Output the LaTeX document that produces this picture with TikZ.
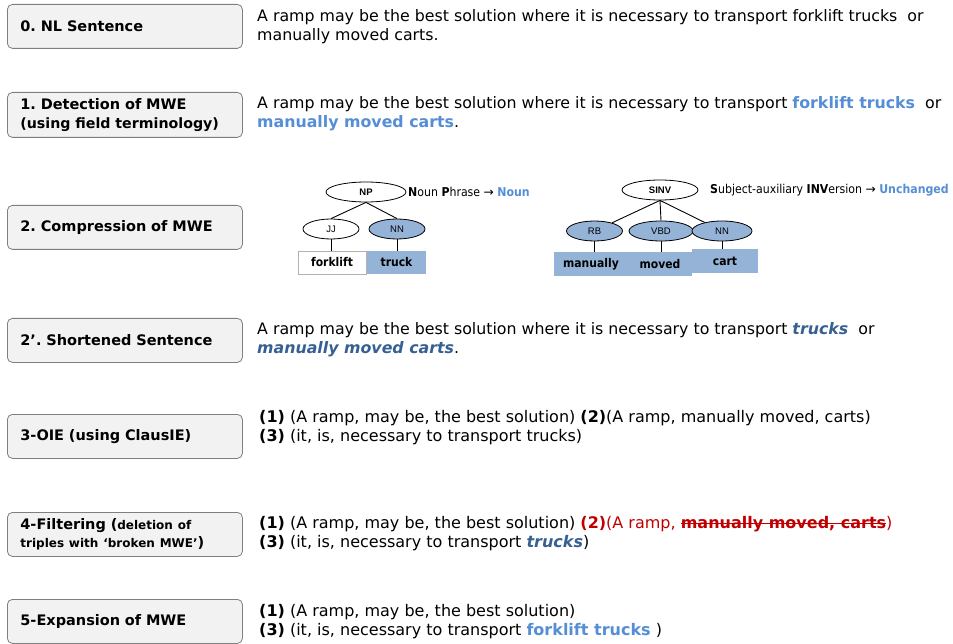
\documentclass[tikz,border=0pt]{standalone}
\usepackage{fontspec}
\setmainfont{DejaVu Sans}
\newfontfamily\bodyfont{DejaVu Sans}
\newfontfamily\notefont{DejaVu Sans Condensed}[BoldFont={DejaVu Sans Condensed Bold}]
\newfontfamily\treefont{Liberation Sans}
\usetikzlibrary{shapes.geometric}
\definecolor{lblue}{HTML}{558ED5}
\definecolor{dblue}{HTML}{376092}
\definecolor{nodeblue}{HTML}{95B3D7}
\definecolor{dred}{HTML}{C00000}
\definecolor{boxgray}{HTML}{F2F2F2}
\definecolor{boxline}{HTML}{7F7F7F}
\tikzset{
  stepbox/.style={draw=boxline,fill=boxgray,rounded corners=5pt,line width=0.8pt,anchor=north west,
    minimum height=44pt,inner xsep=13pt,inner ysep=0pt,text width=209pt,align=left,
    font=\fontsize{14.5}{18.5}\selectfont\bfseries},
  sent/.style={anchor=west,align=left,inner sep=0pt,font=\bodyfont\fontsize{15.8}{19}\selectfont},
  triple/.style={sent,font=\bodyfont\fontsize{16}{19}\selectfont},
  tag/.style={draw,ellipse,line width=0.8pt,minimum height=20pt,inner sep=0pt,font=\treefont\fontsize{9.5}{10}\selectfont},
  word/.style={minimum height=23pt,inner sep=0pt,font=\notefont\bfseries\fontsize{12}{14}\selectfont},
  note/.style={anchor=west,inner sep=0pt,font=\notefont\fontsize{12.2}{14}\selectfont},
  branch/.style={line width=0.9pt}
}
\newcommand{\mwe}[1]{\textcolor{lblue}{\textbf{#1}}}
\newcommand{\cmp}[1]{\textcolor{dblue}{\textbf{\textit{#1}}}}
\newcommand{\xout}[1]{\setbox0\hbox{#1}\rlap{\rule[0.3em]{\wd0}{0.9pt}}\box0}
\newcommand{\arr}{{\fontspec{DejaVu Sans}→}}
\begin{document}
\frenchspacing
\begin{tikzpicture}[x=1pt,y=-1pt]
\useasboundingbox (0,0) rectangle (953,644);
\node[stepbox] (s0) at (7,4) {0. NL Sentence};
\node[stepbox,minimum height=45pt] (s1) at (7,92) {1. Detection of MWE\\\mbox{\fontsize{14.2}{18.5}\selectfont(using field terminology)}};
\node[stepbox] (s2) at (7,205) {2. Compression of MWE};
\node[stepbox] (s2p) at (7,318) {2'. Shortened Sentence};
\node[stepbox] (s3) at (7,414) {3-OIE (using ClausIE)};
\node[stepbox] (s4) at (7,512) {4-Filtering ({\fontsize{12}{18}\selectfont deletion of\\triples with `broken MWE'})};
\node[stepbox] (s5) at (7,599) {5-Expansion of MWE};

\node[sent] (t0) at (257,27) {A ramp may be the best solution where it is necessary to transport forklift trucks~ or\\manually moved carts.};
\node[sent] (t1) at (257,114) {A ramp may be the best solution where it is necessary to transport \mwe{forklift trucks}~ or\\\mwe{manually moved carts}.};
\node[sent] (t2p) at (257,340) {A ramp may be the best solution where it is necessary to transport \cmp{trucks}~ or\\\cmp{manually moved carts}.};
\node[triple] (t3) at (259,428) {\textbf{(1)} (A ramp, may be, the best solution) \textbf{(2)}(A ramp, manually moved, carts)\\\textbf{(3)} (it, is, necessary to transport trucks)};
\node[triple] (t4) at (259,534) {\textbf{(1)} (A ramp, may be, the best solution) \textcolor{dred}{\textbf{(2)}(A ramp, \textbf{\xout{manually moved, carts}})}\\\textbf{(3)} (it, is, necessary to transport \cmp{trucks})};
\node[triple] (t5) at (259,622) {\textbf{(1)} (A ramp, may be, the best solution)\\\textbf{(3)} (it, is, necessary to transport \mwe{forklift trucks} )};

\node[tag,minimum width=80pt,font=\treefont\bfseries\fontsize{9.5}{10}\selectfont] (np) at (366,192) {NP};
\node[note] (npn) at (408,192) {\textbf{N}oun \textbf{P}hrase \arr{} \textcolor{lblue}{\textbf{Noun}}};
\node[tag,minimum width=56pt] (jj) at (331,229) {JJ};
\node[tag,minimum width=56pt,fill=nodeblue] (nn) at (397,229) {NN};
\node[word,draw=boxline!60,line width=0.6pt,minimum width=68pt] (forklift) at (332,262.5) {forklift};
\node[word,fill=nodeblue,minimum width=59pt] (truck) at (396.5,262.5) {truck};
\path[branch] (np.south) edge (jj.north) (np.south) edge (nn.north);
\path[branch] (jj.south) edge (jj.south |- forklift.north) (nn.south) edge (nn.south |- truck.north);

\node[tag,minimum width=76pt,font=\treefont\bfseries\fontsize{9.5}{10}\selectfont] (sinv) at (660,190) {SINV};
\node[note] (sinvn) at (710,190) {\textbf{S}ubject-auxiliary \textbf{INV}ersion \arr{} \textcolor{lblue}{\textbf{Unchanged}}};
\node[tag,minimum width=56pt,fill=nodeblue] (rb) at (594.5,231) {RB};
\node[tag,minimum width=64pt,fill=nodeblue] (vbd) at (661,231) {VBD};
\node[tag,minimum width=60pt,fill=nodeblue] (nn2) at (722,231) {NN};
\node[word,fill=nodeblue,minimum width=74pt,minimum height=24pt] (manually) at (591,264) {manually};
\node[word,fill=nodeblue,minimum width=64pt,minimum height=24pt] (moved) at (660,264) {moved};
\node[word,fill=nodeblue,minimum width=66pt,minimum height=24pt] (cart) at (725,261) {cart};
\path[branch] (sinv.south) edge (rb) (sinv.south) edge (vbd.north) (sinv.south) edge (nn2);
\path[branch] (rb.south) edge (rb.south |- manually.north) (vbd.south) edge (vbd.south |- moved.north) (nn2.south) edge (nn2.south |- cart.north);
\end{tikzpicture}
\end{document}
